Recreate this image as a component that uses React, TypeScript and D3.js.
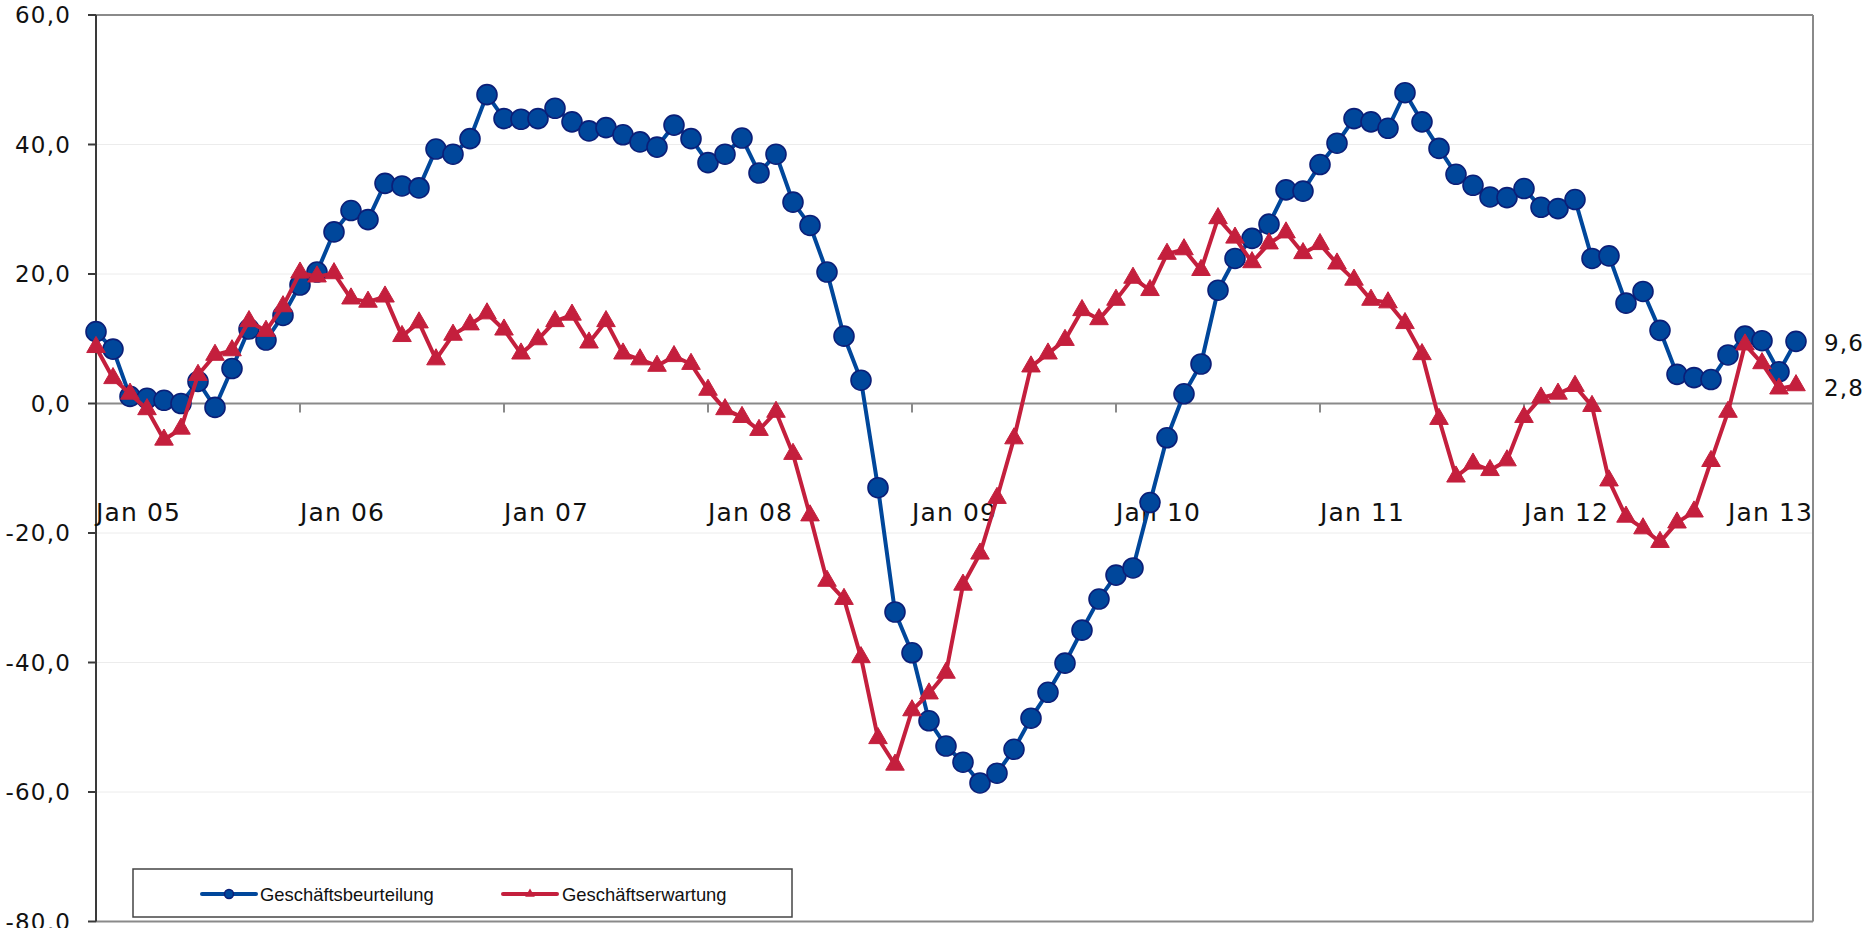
import React from 'react';
import * as d3 from 'd3';

// monthly survey balances, Jan 2005 - May 2013
const beurteilung = [
  11.1, 8.4, 1.1, 0.8, 0.5, 0.0, 3.4, -0.6, 5.4, 11.5, 9.8, 13.6,
  18.3, 20.3, 26.5, 29.8, 28.4, 34.0, 33.6, 33.3, 39.3, 38.5, 40.9, 47.7,
  44.0, 43.9, 44.0, 45.6, 43.5, 42.1, 42.6, 41.5, 40.4, 39.6, 43.0, 40.9,
  37.2, 38.5, 41.0, 35.6, 38.5, 31.1, 27.5, 20.3, 10.4, 3.6, -13.0, -32.2,
  -38.5, -49.0, -52.9, -55.4, -58.6, -57.1, -53.4, -48.6, -44.6, -40.1, -35.0, -30.2,
  -26.5, -25.4, -15.3, -5.3, 1.5, 6.1, 17.5, 22.4, 25.5, 27.7, 33.0, 32.8,
  36.9, 40.2, 44.0, 43.5, 42.5, 48.0, 43.5, 39.4, 35.4, 33.7, 31.9, 31.8,
  33.2, 30.3, 30.1, 31.5, 22.4, 22.8, 15.5, 17.3, 11.3, 4.5, 4.0, 3.7,
  7.5, 10.4, 9.7, 4.9, 9.6,
];

const erwartung = [
  8.7, 3.9, 1.5, -0.9, -5.6, -3.9, 4.4, 7.5, 8.2, 12.7, 11.2, 15.0,
  20.2, 19.6, 20.1, 16.2, 15.7, 16.5, 10.4, 12.5, 6.8, 10.6, 12.2, 13.9,
  11.4, 7.7, 9.9, 12.7, 13.7, 9.4, 12.7, 7.7, 6.8, 5.8, 7.3, 6.1,
  2.1, -0.9, -2.1, -4.1, -1.3, -7.8, -17.3, -27.4, -30.2, -39.2, -51.7, -55.8,
  -47.4, -44.8, -41.6, -28.0, -23.2, -14.6, -5.4, 5.7, 7.7, 9.8, 14.4, 13.0,
  16.0, 19.4, 17.5, 23.1, 23.8, 20.6, 28.6, 25.6, 21.8, 24.7, 26.4, 23.2,
  24.6, 21.6, 19.1, 16.0, 15.6, 12.4, 7.6, -2.4, -11.3, -9.3, -10.3, -8.8,
  -2.1, 0.9, 1.5, 2.7, -0.4, -11.9, -17.5, -19.3, -21.4, -18.4, -16.7, -8.9,
  -1.3, 9.1, 6.2, 2.3, 2.8,
];

const yearLabels = ['Jan 05', 'Jan 06', 'Jan 07', 'Jan 08', 'Jan 09', 'Jan 10', 'Jan 11', 'Jan 12', 'Jan 13'];
const yTicks = [60, 40, 20, 0, -20, -40, -60, -80];
const seriesNames = ['Geschäftsbeurteilung', 'Geschäftserwartung'];

const BLUE = '#00479b';
const BLUE_EDGE = '#0b1f78';
const RED = '#c41f3d';
const axisFont = '"DejaVu Sans", Verdana, sans-serif';

const fmt = (v: number) => v.toFixed(1).replace('.', ',');

const App: React.FC = () => {
  const width = 1870;
  const height = 928;
  const left = 96;
  const right = 1813;
  const top = 15;
  const bottom = 921.5;

  const x = d3.scaleLinear().domain([0, 101]).range([left, right]);
  const y = d3.scaleLinear().domain([-80, 60]).range([bottom, top]);

  const line = d3.line<number>()
    .x((_, i) => x(i))
    .y(d => y(d));

  const tri = d3.symbol().type(d3.symbolTriangle).size(150)();
  const triSmall = d3.symbol().type(d3.symbolTriangle).size(40)();

  const lastB = beurteilung[beurteilung.length - 1];
  const lastE = erwartung[erwartung.length - 1];
  const lastI = beurteilung.length - 1;

  return (
    <svg width={width} height={height} style={{ position: 'absolute', left: 0, top: 0, background: '#fff' }}>
      {/* gridlines */}
      {yTicks.filter(t => t !== 0 && t !== 60 && t !== -80).map(t => (
        <line key={'g' + t} x1={left} x2={right} y1={y(t)} y2={y(t)} stroke="#ececec" strokeWidth={1} />
      ))}
      {/* frame */}
      <line x1={left} x2={right} y1={top} y2={top} stroke="#8a8a8a" strokeWidth={2} />
      <line x1={left} x2={right} y1={bottom} y2={bottom} stroke="#8a8a8a" strokeWidth={2} />
      <line x1={right} x2={right} y1={top} y2={bottom} stroke="#8a8a8a" strokeWidth={2} />
      {/* zero axis with yearly ticks */}
      <line x1={left} x2={right} y1={y(0)} y2={y(0)} stroke="#8a8a8a" strokeWidth={2} />
      {yearLabels.map((_, k) => (
        <line key={'xt' + k} x1={x(k * 12)} x2={x(k * 12)} y1={y(0)} y2={y(0) + 9} stroke="#8a8a8a" strokeWidth={2} />
      ))}
      {/* left axis */}
      <line x1={left} x2={left} y1={top} y2={bottom} stroke="#3a3a3a" strokeWidth={2} />
      {yTicks.map(t => (
        <g key={'yt' + t}>
          <line x1={left - 8} x2={left} y1={y(t)} y2={y(t)} stroke="#3a3a3a" strokeWidth={2} />
          <text x={71} y={y(t)} dy="0.36em" textAnchor="end" fontFamily={axisFont} fontSize={23}
            letterSpacing={1.2} fill="#111">{fmt(t)}</text>
        </g>
      ))}
      {yearLabels.map((lab, k) => (
        <text key={'xl' + k} x={x(k * 12)} y={521} fontFamily={axisFont} fontSize={25}
          letterSpacing={1.1} fill="#111">{lab}</text>
      ))}

      {/* Geschäftsbeurteilung */}
      <path d={line(beurteilung) || ''} fill="none" stroke={BLUE} strokeWidth={4} strokeLinejoin="round" />
      {beurteilung.map((v, i) => (
        <circle key={'b' + i} cx={x(i)} cy={y(v)} r={10} fill={BLUE} stroke={BLUE_EDGE} strokeWidth={1.6} />
      ))}

      {/* Geschäftserwartung */}
      <path d={line(erwartung) || ''} fill="none" stroke={RED} strokeWidth={4} strokeLinejoin="round" />
      {erwartung.map((v, i) => (
        <path key={'e' + i} d={tri || ''} transform={`translate(${x(i)},${y(v)})`} fill={RED} stroke={RED} strokeWidth={1} />
      ))}

      {/* end values */}
      <text x={x(lastI) + 28} y={y(lastB)} dy="0.4em" fontFamily={axisFont} fontSize={23} letterSpacing={1.2} fill="#111">{fmt(lastB)}</text>
      <text x={x(lastI) + 28} y={y(lastE)} dy="0.45em" fontFamily={axisFont} fontSize={23} letterSpacing={1.2} fill="#111">{fmt(lastE)}</text>

      {/* legend */}
      <rect x={133} y={869} width={659} height={48} fill="#fff" stroke="#444" strokeWidth={1.5} />
      <line x1={202} x2={256} y1={894} y2={894} stroke={BLUE} strokeWidth={4} strokeLinecap="round" />
      <circle cx={229} cy={894} r={4.5} fill={BLUE} stroke={BLUE_EDGE} strokeWidth={1.5} />
      <text x={260} y={894} dy="0.36em" fontFamily="Arial, 'Liberation Sans', sans-serif" fontSize={18.4} fill="#111">{seriesNames[0]}</text>
      <line x1={503} x2={557} y1={894} y2={894} stroke={RED} strokeWidth={4} strokeLinecap="round" />
      <path d={triSmall || ''} transform="translate(530,894)" fill={RED} />
      <text x={562} y={894} dy="0.36em" fontFamily="Arial, 'Liberation Sans', sans-serif" fontSize={18.4} fill="#111">{seriesNames[1]}</text>
    </svg>
  );
};

export default App;
